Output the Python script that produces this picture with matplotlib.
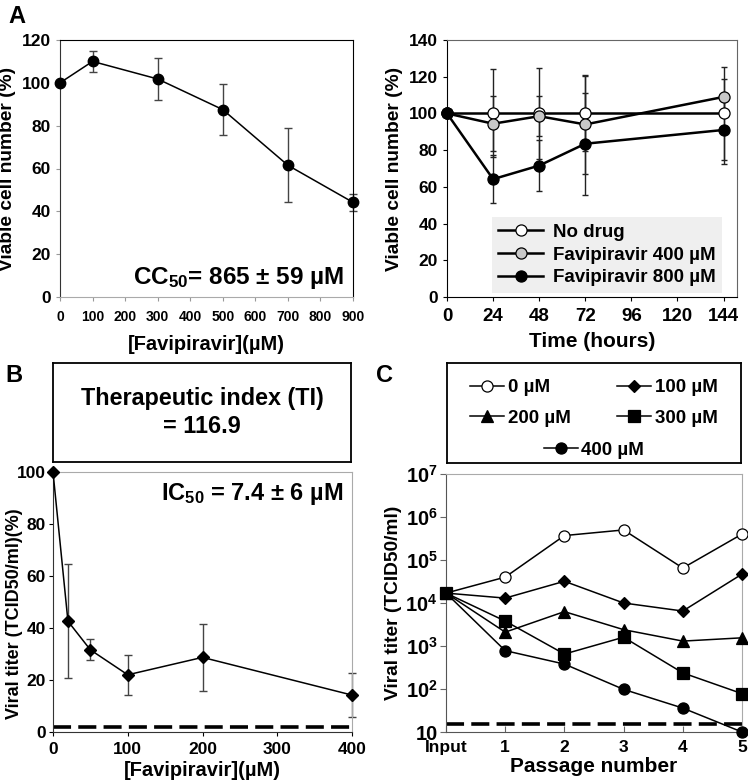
import numpy as np
import matplotlib
matplotlib.use("Agg")
from matplotlib import pyplot as plt

plt.rcParams["font.family"] = ["Liberation Sans", "DejaVu Sans"]
plt.rcParams["font.weight"] = "bold"
plt.rcParams["axes.labelweight"] = "bold"
plt.rcParams["mathtext.fontset"] = "custom"
plt.rcParams["mathtext.rm"] = "Liberation Sans:bold"
plt.rcParams["mathtext.bf"] = "Liberation Sans:bold"
plt.rcParams["mathtext.it"] = "Liberation Sans:bold"

# --- A left: cytotoxicity ---
cc_dose = [0, 100, 300, 500, 700, 900]
cc_viab = [100, 110, 101.8, 87.5, 61.5, 44.2]
cc_err = [0, 5, 10, 12, 17.3, 4]

# --- A right: time course ---
tc_hours = [0, 24, 48, 72, 144]
tc_none = [100, 100, 100, 100, 100]
tc_none_err = [0, 24, 25, 20.5, 25.5]
tc_400 = [100, 94.4, 98.5, 94, 109]
tc_400_err = [0, 15, 11, 27, 9.7]
tc_800 = [100, 64.2, 71.6, 83.5, 91]
tc_800_err = [0, 13, 14, 27.8, 18.6]

# --- B: inhibition ---
ic_dose = [0, 20, 50, 100, 200, 400]
ic_titer = [100, 42.6, 31.6, 22, 28.7, 14.2]
ic_err = [0, 22, 4, 7.7, 13, 8.5]
ic_limit = 2

# --- C: passages ---
passages = ["Input", "1", "2", "3", "4", "5"]
pass_0 = [1.7e4, 4.0e4, 3.7e5, 5.0e5, 6.5e4, 4.0e5]
pass_100 = [1.7e4, 1.3e4, 3.2e4, 1.0e4, 6.5e3, 4.7e4]
pass_200 = [1.7e4, 2.1e3, 6.3e3, 2.4e3, 1.3e3, 1.55e3]
pass_300 = [1.7e4, 3.8e3, 650, 1.6e3, 237, 78]
pass_400 = [1.7e4, 780, 380, 98, 36, 10]
pass_limit = 15

fig = plt.figure(figsize=(7.48, 7.82), dpi=100)


def frac(left, right, top, bottom):
    W, H = 748.0, 782.0
    return [left / W, 1 - bottom / H, (right - left) / W, (bottom - top) / H]


def style_spines(ax, dark="black", light="#999999"):
    for s in ("left", "bottom"):
        ax.spines[s].set_color(dark)
        ax.spines[s].set_linewidth(0.8)
    for s in ("top", "right"):
        ax.spines[s].set_color(light)
        ax.spines[s].set_linewidth(0.8)


# ---------- A left ----------
ax1 = fig.add_axes(frac(60, 353, 40, 297))
ax1.errorbar(cc_dose, cc_viab, yerr=cc_err, fmt="none", ecolor="#444444",
             elinewidth=1, capsize=3, capthick=1, clip_on=False)
ax1.plot(cc_dose, cc_viab, "-o", color="black", lw=1.1, ms=7.5, clip_on=False, zorder=3)
ax1.set_xlim(0, 900)
ax1.set_ylim(0, 120)
ax1.set_xticks(np.arange(0, 901, 100))
ax1.set_yticks(np.arange(0, 121, 20))
ax1.tick_params(axis="x", labelsize=10, length=3, color="#999999", pad=6)
ax1.tick_params(axis="y", labelsize=12.5, length=3, color="#999999")
style_spines(ax1, dark="#333333", light="black")
ax1.spines["bottom"].set_color("#aaaaaa")
ax1.set_ylabel("Viable cell number (%)", fontsize=13.8, labelpad=4)
ax1.set_xlabel("[Favipiravir](µM)", fontsize=14.5, labelpad=8)
ax1.text(0.97, 0.025, r"CC$_{50}$= 865 ± 59 µM", transform=ax1.transAxes,
         ha="right", va="bottom", fontsize=17.5)

# ---------- A right ----------
ax2 = fig.add_axes(frac(447, 737, 40, 297))
series = [(tc_none, tc_none_err, "white", "No drug"),
          (tc_400, tc_400_err, "#c8c8c8", "Favipiravir 400 µM"),
          (tc_800, tc_800_err, "black", "Favipiravir 800 µM")]
handles = []
for vals, err, face, lab in series:
    ax2.errorbar(tc_hours, vals, yerr=err, fmt="none", ecolor="#222222",
                 elinewidth=1, capsize=2.5, capthick=1, clip_on=False)
for vals, err, face, lab in series:
    h, = ax2.plot(tc_hours, vals, "-o", color="black", mfc=face, mec="black",
                  lw=1.8, ms=8, mew=0.9, clip_on=False, zorder=3, label=lab)
    handles.append(h)
ax2.set_xlim(0, 151)
ax2.set_ylim(0, 140)
ax2.set_xticks(np.arange(0, 145, 24))
ax2.set_yticks(np.arange(0, 141, 20))
ax2.tick_params(axis="x", labelsize=13.5, length=3, pad=5)
ax2.tick_params(axis="y", labelsize=12.5, length=3)
style_spines(ax2, dark="black", light="#666666")
ax2.set_ylabel("Viable cell number (%)", fontsize=13.8, labelpad=4)
ax2.set_xlabel("Time (hours)", fontsize=15, labelpad=5)
ax2.legend(handles=handles, loc="lower right", bbox_to_anchor=(0.948, 0.016),
           borderaxespad=0, frameon=True, fancybox=False, facecolor="#efefef",
           edgecolor="none", framealpha=1, fontsize=13.5, handlelength=2.4,
           handletextpad=0.5, labelspacing=0.3, borderpad=0.35)

# ---------- B ----------
axb_box = fig.add_axes(frac(53, 351, 363, 462))
axb_box.set_xticks([])
axb_box.set_yticks([])
for s in axb_box.spines.values():
    s.set_linewidth(1.3)
axb_box.text(0.5, 0.5, "Therapeutic index (TI)\n= 116.9", transform=axb_box.transAxes,
             ha="center", va="center", fontsize=16.8, linespacing=1.25)

ax3 = fig.add_axes(frac(53, 352, 472, 732))
ax3.errorbar(ic_dose, ic_titer, yerr=ic_err, fmt="none", ecolor="#444444",
             elinewidth=1, capsize=3, capthick=1, clip_on=False)
ax3.plot(ic_dose, ic_titer, "-D", color="black", lw=1.1, ms=6.5, clip_on=False, zorder=3)
ax3.axhline(ic_limit, color="black", lw=2.6, dashes=(5, 2))
ax3.set_xlim(0, 400)
ax3.set_ylim(0, 100)
ax3.set_xticks(np.arange(0, 401, 100))
ax3.set_yticks(np.arange(0, 101, 20))
ax3.tick_params(axis="x", labelsize=12.5, length=3, pad=4)
ax3.tick_params(axis="y", labelsize=12.5, length=3, pad=2)
style_spines(ax3, dark="#333333", light="#aaaaaa")
ax3.set_ylabel("Viral titer (TCID50/ml)(%)", fontsize=13)
ax3.yaxis.set_label_coords(-0.1, 0.455)
ax3.set_xlabel("[Favipiravir](µM)", fontsize=14.5, labelpad=3)
ax3.text(0.97, 0.965, r"IC$_{50}$ = 7.4 ± 6 µM", transform=ax3.transAxes,
         ha="right", va="top", fontsize=17)

# ---------- C ----------
axc_box = fig.add_axes(frac(447, 741, 363, 463))
axc_box.set_xticks([])
axc_box.set_yticks([])
for s in axc_box.spines.values():
    s.set_linewidth(1.3)

ax4 = fig.add_axes(frac(446, 742, 474, 732))
xpos = np.arange(len(passages))
pass_series = [(pass_0, "o", "white", 8, "0 µM", 3),
               (pass_100, "D", "black", 6, "100 µM", 3),
               (pass_200, "^", "black", 8.5, "200 µM", 3),
               (pass_300, "s", "black", 8, "300 µM", 4),
               (pass_400, "o", "black", 8, "400 µM", 3)]
ch = []
for vals, mk, face, ms, lab, z in pass_series:
    h, = ax4.plot(xpos, vals, "-", marker=mk, color="black", mfc=face, mec="black",
                  lw=1.1, ms=ms, mew=0.9, clip_on=False, zorder=z, label=lab)
    ch.append(h)
ax4.axhline(pass_limit, color="black", lw=2.6, dashes=(5, 2))
ax4.set_yscale("log")
ax4.set_xlim(0, 5)
ax4.set_ylim(10, 1e7)
ax4.set_xticks(xpos)
ax4.set_xticklabels(passages)
ax4.set_yticks([10, 1e2, 1e3, 1e4, 1e5, 1e6, 1e7])
ax4.set_yticklabels(["10"] + [r"$10^{%d}$" % k for k in range(2, 8)])
ax4.minorticks_off()
ax4.tick_params(axis="x", labelsize=12.5, length=4, direction="in", pad=6, color="#666666")
ax4.tick_params(axis="y", labelsize=14.5, length=4, color="#666666", pad=2)
style_spines(ax4, dark="#555555", light="#aaaaaa")
ax4.set_ylabel("Viral titer (TCID50/ml)", fontsize=13.8, labelpad=2)
ax4.set_xlabel("Passage number", fontsize=15, labelpad=1)

# legend: row-wise order 0 / 100, 200 / 300, then 400 centred below
leg_kw = dict(frameon=False, fontsize=13.5, handlelength=1.8, handletextpad=0.2,
              borderpad=0, borderaxespad=0)
leg1 = axc_box.legend(handles=[ch[0], ch[2], ch[1], ch[3]], ncol=2, loc="center",
                      bbox_to_anchor=(0.5, 0.6), columnspacing=2.5, labelspacing=0.7,
                      **leg_kw)
axc_box.add_artist(leg1)
axc_box.legend(handles=ch[4:], loc="center", bbox_to_anchor=(0.5, 0.13), **leg_kw)

# panel letters
fig.text(8 / 748, 1 - 5 / 782, "A", fontsize=17, va="top", ha="left")
fig.text(5 / 748, 1 - 364 / 782, "B", fontsize=17, va="top", ha="left")
fig.text(376 / 748, 1 - 364 / 782, "C", fontsize=17, va="top", ha="left")

fig.savefig("out.png", dpi=100)
